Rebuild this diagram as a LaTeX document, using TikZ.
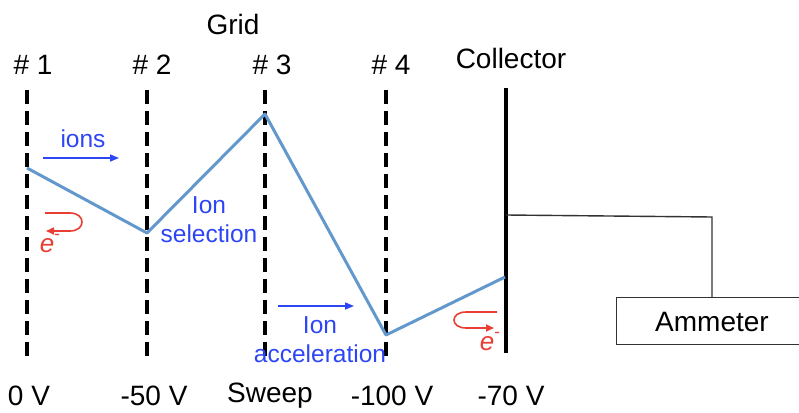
\documentclass[tikz,border=0pt]{standalone}
\usepackage{fontspec}
\setmainfont{Liberation Sans}
\usetikzlibrary{arrows.meta}
\definecolor{lineblue}{RGB}{98,152,204}
\definecolor{txtblue}{RGB}{45,70,245}
\definecolor{ered}{RGB}{232,62,52}
\newcommand{\eminus}{\textit{e}\raisebox{0.5em}{\fontsize{17}{17}\selectfont -}}
\tikzset{
  gridline/.style={line width=3.2pt, dash pattern=on 14pt off 7pt},
  collline/.style={line width=3.2pt},
  lbl/.style={inner sep=0pt, font=\fontsize{28}{33}\selectfont},
  bluelbl/.style={inner sep=0pt, text=txtblue, align=center, font=\fontsize{24.5}{29}\selectfont},
  elbl/.style={inner sep=0pt, text=ered, font=\fontsize{26}{30}\selectfont},
  potential/.style={lineblue, line width=3pt, line join=round},
  ionarrow/.style={txtblue, line width=1.6pt, -{Triangle[length=9pt,width=7pt]}},
  eloop/.style={ered, line width=1.6pt, -{Triangle[length=8pt,width=7pt]}},
  wire/.style={line width=1.4pt, draw=black!80},
}
\begin{document}
\begin{tikzpicture}[x=1pt, y=-1pt]
\useasboundingbox (0,0) rectangle (799,412);
% grids
\coordinate (g1t) at (27,90);  \coordinate (g1b) at (27,356);
\coordinate (g2t) at (147,90); \coordinate (g2b) at (147,356);
\coordinate (g3t) at (265,90); \coordinate (g3b) at (265,356);
\coordinate (g4t) at (386,90); \coordinate (g4b) at (386,356);
\coordinate (ct) at (506,88);  \coordinate (cb) at (506,353);
\draw[gridline] (g1t) -- (g1b);
\draw[gridline] (g2t) -- (g2b);
\draw[gridline] (g3t) -- (g3b);
\draw[gridline] (g4t) -- (g4b);
\draw[collline] (ct) -- (cb);
% labels top
\node[lbl] (grid) at (233,24) {Grid};
\node[lbl] (n1) at (33,65) {\# 1};
\node[lbl] (n2) at (152,65) {\# 2};
\node[lbl] (n3) at (272,65) {\# 3};
\node[lbl] (n4) at (391,65) {\# 4};
\node[lbl] (coll) at (511,58) {Collector};
% bottom labels
\node[lbl] (v1) at (29,396) {0 V};
\node[lbl] (v2) at (154,396) {-50 V};
\node[lbl] (v3) at (270,396) {Sweep};
\node[lbl] (v4) at (392,396) {-100 V};
\node[lbl] (v5) at (511,396) {-70 V};
% potential
\coordinate (p1) at (27,168);
\coordinate (p2) at (147,233);
\coordinate (p3) at (265,114);
\coordinate (p4) at (386,335);
\coordinate (p5) at (505,277);
\draw[potential] (p1) -- (p2) -- (p3) -- (p4) -- (p5);
% ions
\node[bluelbl] (ions) at (83,139) {ions};
\coordinate (ia1) at (43,158); \coordinate (ia2) at (119,158);
\draw[ionarrow] (ia1) -- (ia2);
\node[bluelbl] (sel) at (209,220) {Ion\\selection};
\node[bluelbl] (acc) at (320,340) {Ion\\acceleration};
\coordinate (aa1) at (278,306); \coordinate (aa2) at (354,306);
\draw[ionarrow] (aa1) -- (aa2);
% electrons
\coordinate (el1) at (45,213); \coordinate (el2) at (46,231);
\draw[eloop] (el1) -- (70,213) .. controls (86,213) and (86,231) .. (70,231) -- (el2);
\node[elbl] (e1) at (50,244) {\eminus};
\coordinate (er1) at (497,312); \coordinate (er2) at (494,328);
\draw[eloop] (er1) -- (466,312) .. controls (450,312) and (450,328) .. (466,328) -- (er2);
\node[elbl] (e2) at (490,342) {\eminus};
% ammeter
\node[draw=black!80, line width=1.4pt, minimum width=200pt, minimum height=47pt, anchor=north west, inner sep=0pt] (amm) at (616,297) {};
\node[lbl] (ammtxt) at (712,322) {Ammeter};
\coordinate (wc) at (506,215);
\coordinate (wk) at (712,217);
\draw[wire] (wc) -- (wk) -- (wk |- amm.north);
\end{tikzpicture}
\end{document}
